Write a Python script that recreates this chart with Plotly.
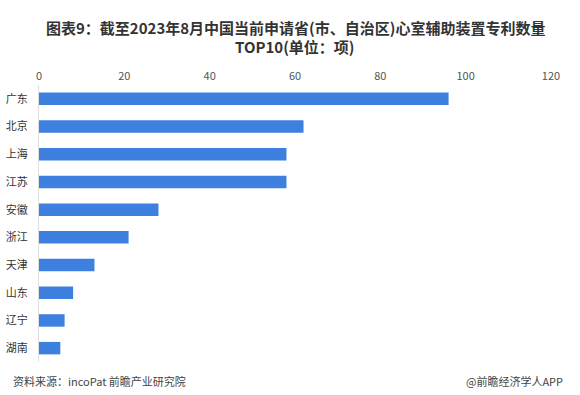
import plotly.graph_objects as go

provinces = ["广东", "北京", "上海", "江苏", "安徽", "浙江", "天津", "山东", "辽宁", "湖南"]
patents = [96, 62, 58, 58, 28, 21, 13, 8, 6, 5]
x_ticks = [0, 20, 40, 60, 80, 100, 120]

fig = go.Figure(go.Bar(
    x=patents, y=provinces, orientation="h",
    marker=dict(color="#3d80e0", line=dict(width=0)),
    width=0.45,
))

FONT = "Noto Sans CJK SC"
fig.update_layout(
    width=580, height=395,
    margin=dict(l=39, r=29, t=85, b=33),
    paper_bgcolor="white", plot_bgcolor="white",
    font=dict(family=FONT, color="#333"),
    showlegend=False,
    xaxis=dict(side="top", range=[0, 120], tickvals=x_ticks, showgrid=False,
               zeroline=False, showline=False, ticks="", automargin=False,
               ticklabelstandoff=2,
               tickfont=dict(size=11, color="#555")),
    yaxis=dict(autorange="reversed", showgrid=False, zeroline=False,
               showline=True, linecolor="#e0e0e0", linewidth=1, ticks="",
               automargin=False, ticklabelstandoff=8,
               tickfont=dict(size=11, color="#333")),
)

title_lines = ["图表9：截至2023年8月中国当前申请省(市、自治区)心室辅助装置专利数量", "TOP10(单位：项)"]
title_y = [27, 46]
for line, ty in zip(title_lines, title_y):
    fig.add_annotation(text="<b>" + line + "</b>",
                       xref="paper", yref="paper", x=0.5, xanchor="center",
                       y=1, yshift=85 - ty, yanchor="middle", showarrow=False,
                       font=dict(size=15, color="#333", family=FONT), align="center")
fig.add_annotation(text="资料来源：incoPat 前瞻产业研究院", xref="paper", yref="paper",
                   x=0, xshift=-28, xanchor="left", y=0, yshift=-19, yanchor="middle",
                   showarrow=False, font=dict(size=11, color="#444", family=FONT))
fig.add_annotation(text="@前瞻经济学人APP", xref="paper", yref="paper",
                   x=1, xshift=14, xanchor="right", y=0, yshift=-19, yanchor="middle",
                   showarrow=False, font=dict(size=11, color="#444", family=FONT))

fig.write_html("out.html", config={"displayModeBar": False},
               post_script="document.body.style.margin='0';")
